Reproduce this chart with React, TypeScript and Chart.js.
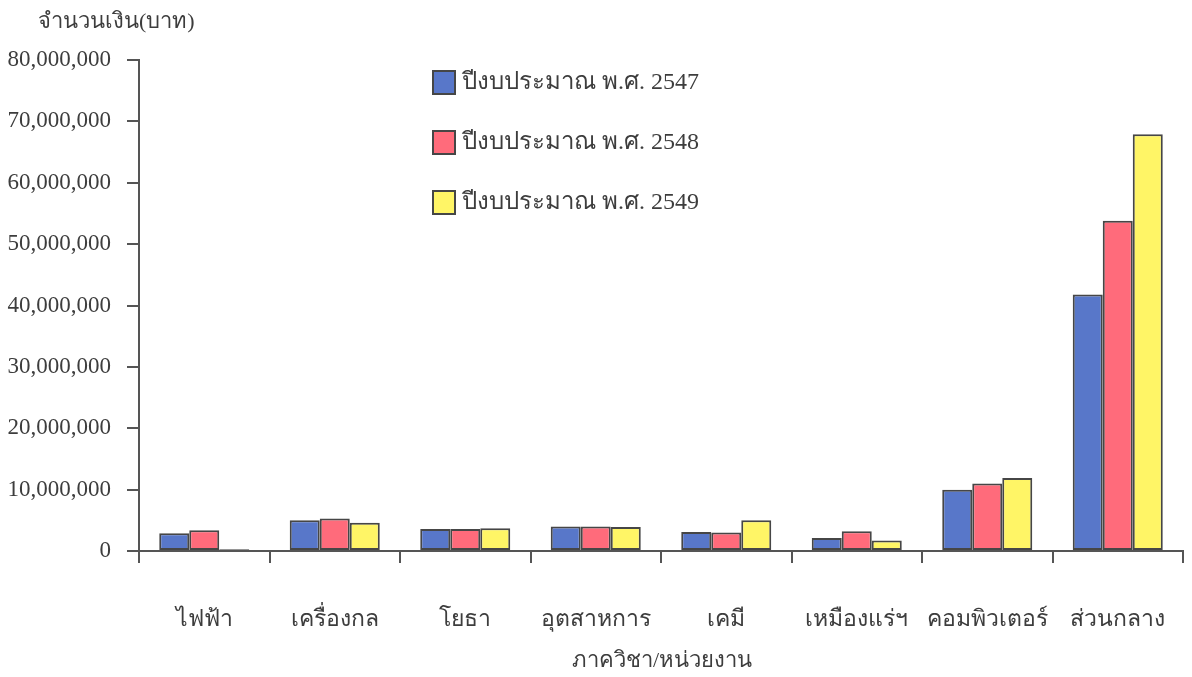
import React, { useEffect, useRef } from 'react';
import { Chart, registerables } from 'chart.js';

Chart.register(...registerables);

const categories = ['ไฟฟ้า', 'เครื่องกล', 'โยธา', 'อุตสาหการ', 'เคมี', 'เหมืองแร่ฯ', 'คอมพิวเตอร์', 'ส่วนกลาง'];
const budget2547 = [2900000, 5000000, 3600000, 4000000, 3100000, 2100000, 10000000, 41800000];
const budget2548 = [3400000, 5300000, 3600000, 4000000, 3000000, 3200000, 11000000, 53800000];
const budget2549 = [300000, 4600000, 3700000, 3900000, 5000000, 1700000, 11900000, 67900000];
const seriesLabels = ['ปีงบประมาณ พ.ศ. 2547', 'ปีงบประมาณ พ.ศ. 2548', 'ปีงบประมาณ พ.ศ. 2549'];
const seriesColors = ['#5877c9', '#ff6b7b', '#fff566'];
const yMin = 0;
const yMax = 80000000;
const yStep = 10000000;
const yTitle = 'จำนวนเงิน(บาท)';
const xTitle = 'ภาควิชา/หน่วยงาน';

const FONT = "'Liberation Serif', 'Times New Roman', serif";
const TEXT = '#3d3d3d';
const AXIS = '#555555';
const BORDER = '#464646';

const W = 1192;
const H = 677;
const TARGET = { left: 139, right: 1183, top: 60, bottom: 551 };

const overlayPlugin = {
  id: 'overlay',
  afterDraw(chart: any) {
    const ctx = chart.ctx;
    const ca = chart.chartArea;
    ctx.save();
    ctx.fillStyle = TEXT;
    ctx.font = `22px ${FONT}`;
    ctx.textBaseline = 'middle';
    ctx.textAlign = 'left';
    ctx.fillText(yTitle, 38, 22);
    ctx.textAlign = 'center';
    ctx.fillText(xTitle, 662, 661);
    const ds = chart.data.datasets;
    ds.forEach((d: any, i: number) => {
      const cy = ca.top + 22 + i * 60;
      const bx = ca.left + 294;
      ctx.fillStyle = d.backgroundColor;
      ctx.fillRect(bx, cy - 11, 22, 23);
      ctx.strokeStyle = BORDER;
      ctx.lineWidth = 2;
      ctx.strokeRect(bx, cy - 11, 22, 23);
      ctx.fillStyle = TEXT;
      ctx.font = `24px ${FONT}`;
      ctx.textAlign = 'left';
      ctx.textBaseline = 'middle';
      ctx.fillText(d.label, bx + 29, cy + 1);
    });
    ctx.restore();
  },
};

export default function App() {
  const ref = useRef<HTMLCanvasElement | null>(null);
  useEffect(() => {
    if (!ref.current) return;
    const chart = new Chart(ref.current, {
      type: 'bar',
      data: {
        labels: categories,
        datasets: [budget2547, budget2548, budget2549].map((vals, i) => ({
          label: seriesLabels[i],
          data: vals,
          backgroundColor: seriesColors[i],
          borderColor: BORDER,
          borderWidth: 2,
          borderSkipped: false,
          categoryPercentage: 0.69,
          barPercentage: 1.0,
        })),
      },
      options: {
        responsive: false,
        animation: false,
        layout: { padding: { top: 49, left: 0, right: 9, bottom: 0 } },
        plugins: { legend: { display: false }, tooltip: { enabled: false }, title: { display: false } },
        scales: {
          x: {
            offset: true,
            grid: { display: true, drawOnChartArea: false, drawTicks: true, tickLength: 12, color: AXIS, lineWidth: 2, offset: true },
            border: { display: true, color: AXIS, width: 2 },
            ticks: { color: TEXT, font: { family: FONT, size: 23 }, padding: 43, maxRotation: 0, autoSkip: false },
            afterFit: (scale: any) => {
              scale.height = H - TARGET.bottom;
              scale.paddingLeft = 0;
              scale.paddingRight = 0;
            },
          },
          y: {
            min: yMin,
            max: yMax,
            grid: { display: true, drawOnChartArea: false, drawTicks: true, tickLength: 12, color: AXIS, lineWidth: 2 },
            border: { display: true, color: AXIS, width: 2 },
            ticks: {
              stepSize: yStep,
              color: TEXT,
              font: { family: FONT, size: 23 },
              padding: 16,
              callback: (v: any) => Number(v).toLocaleString('en-US'),
            },
            afterFit: (scale: any) => { scale.width = TARGET.left; },
          },
        },
      },
      plugins: [overlayPlugin],
    });
    for (let k = 0; k < 3; k++) {
      const ca = chart.chartArea;
      const p: any = (chart.options.layout as any).padding;
      const dt = TARGET.top - ca.top;
      const dr = ca.right - TARGET.right;
      if (Math.abs(dt) < 0.5 && Math.abs(dr) < 0.5) break;
      p.top += dt;
      p.right += dr;
      chart.update();
    }
    return () => chart.destroy();
  }, []);
  return (
    <div style={{ position: 'absolute', left: 0, top: 0, width: W, height: H, background: '#fff' }}>
      <canvas ref={ref} width={W} height={H} style={{ display: 'block', width: W, height: H }} />
    </div>
  );
}
